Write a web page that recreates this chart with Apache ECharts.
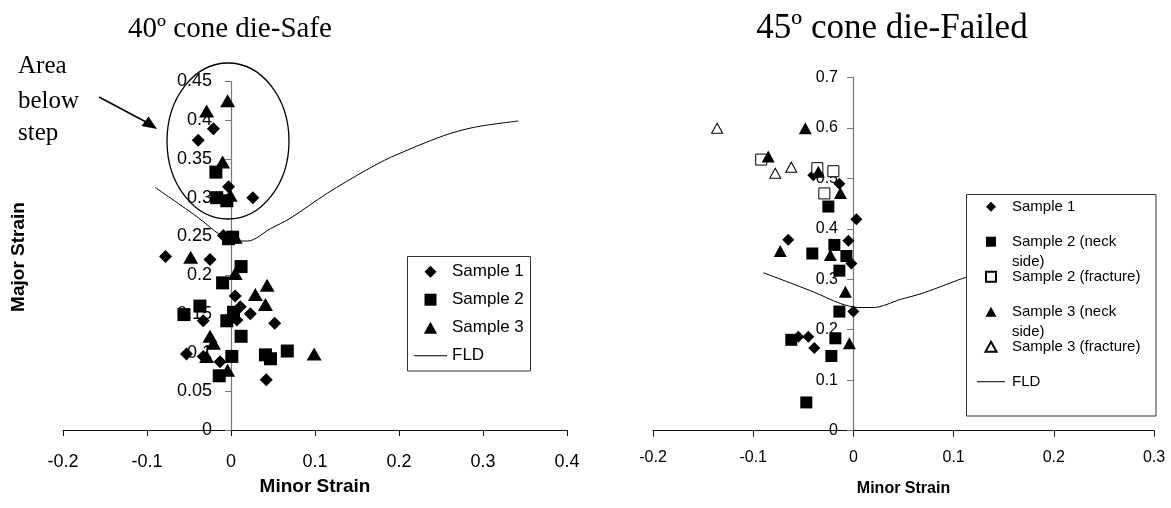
<!DOCTYPE html>
<html>
<head>
<meta charset="utf-8">
<title>Cone die strain</title>
<script src="https://cdn.jsdelivr.net/npm/echarts/dist/echarts.min.js"></script>
<style>
  html, body { margin: 0; padding: 0; background: #fff; }
  #chart { width: 1171px; height: 508px; }
</style>
</head>
<body>
<div id="chart"></div>
<script>
// 40 deg cone die (left)
var leftSample1 = [[-0.021,0.389],[-0.039,0.374],[-0.003,0.314],[0.026,0.300],[-0.009,0.251],[-0.078,0.224],
    [-0.025,0.220],[0.005,0.173],[0.011,0.159],[0.023,0.150],[0.007,0.142],[-0.033,0.141],[0.052,0.138],
    [-0.053,0.098],[-0.033,0.095],[-0.013,0.088],[0.042,0.065]];
var leftSample2 = [[-0.018,0.333],[-0.017,0.300],[-0.005,0.296],[-0.003,0.247],[0.002,0.249],[0.012,0.211],
    [-0.010,0.190],[-0.037,0.160],[-0.056,0.149],[0.003,0.152],[-0.005,0.141],[0.012,0.121],[0.001,0.095],
    [0.041,0.097],[0.047,0.092],[0.067,0.102],[-0.014,0.070]];
var leftSample3 = [[-0.004,0.425],[-0.029,0.412],[-0.010,0.346],[-0.001,0.303],[0.005,0.249],[-0.048,0.223],
    [0.005,0.202],[0.043,0.187],[0.029,0.175],[0.041,0.162],[-0.025,0.121],[-0.021,0.112],[-0.029,0.095],
    [0.099,0.098],[-0.004,0.077]];

// 45 deg cone die (right)
var rightSample1 = [[-0.040,0.506],[-0.014,0.489],[0.003,0.419],[-0.065,0.378],[-0.005,0.376],[-0.002,0.331],
    [0.000,0.236],[-0.055,0.186],[-0.045,0.186],[-0.039,0.164]];
var rightSample2Neck = [[-0.025,0.444],[-0.019,0.368],[-0.041,0.351],[-0.007,0.346],[-0.014,0.317],[-0.014,0.236],
    [-0.062,0.180],[-0.018,0.183],[-0.022,0.148],[-0.047,0.056]];
var rightSample2Frac = [[-0.092,0.537],[-0.036,0.520],[-0.020,0.514],[-0.029,0.470]];
var rightSample3Neck = [[-0.048,0.599],[-0.085,0.543],[-0.035,0.513],[-0.013,0.471],[-0.073,0.356],[-0.023,0.348],
    [-0.008,0.275],[-0.004,0.173]];
var rightSample3Frac = [[-0.136,0.599],[-0.078,0.510],[-0.062,0.522]];

// forming limit curve, same for both dies
var fld = [[-0.09,0.313],[-0.04,0.275],[-0.013,0.252],[0.005,0.244],[0.02,0.244],[0.047,0.260],[0.07,0.273],
    [0.115,0.306],[0.16,0.335],[0.19,0.352],[0.253,0.380],[0.29,0.391],[0.342,0.399]];

var leftXTicks = {min: -0.2, max: 0.4, interval: 0.1};
var leftYTicks = {min: 0, max: 0.45, interval: 0.05};
var rightXTicks = {min: -0.2, max: 0.3, interval: 0.1};
var rightYTicks = {min: 0, max: 0.7, interval: 0.1};

var sans = '"Liberation Sans", Arial, sans-serif';
var serif = '"Liberation Serif", "Times New Roman", serif';

var legendNames = {
    'Sample 2 (neck side)': 'Sample 2 (neck',
    'Sample 3 (neck side)': 'Sample 3 (neck'
};

// legend icons (paths keep their aspect inside the legend item box)
var iconDiamond = 'path://M5,0L10,5L5,10L0,5Z';
var iconSquare = 'path://M0,0H10V10H0Z';
var iconTriangle = 'path://M5,0L10,9L0,9Z';
function iconLine(w) { return 'path://M0,0H' + w + 'V1H0Z'; }

function xAxisOf(grid, ticks, fontSize, margin, gap, nameSize) {
    return {
        gridIndex: grid, type: 'value',
        min: ticks.min, max: ticks.max, interval: ticks.interval,
        name: 'Minor Strain', nameLocation: 'middle', nameGap: gap, nameMoveOverlap: false,
        nameTextStyle: {fontFamily: sans, fontWeight: 'bold', fontSize: nameSize, color: '#000'},
        splitLine: {show: false},
        axisLine: {onZero: false, lineStyle: {color: '#111', width: 1}},
        axisTick: {length: 6, lineStyle: {color: '#111'}},
        axisLabel: {fontFamily: sans, fontSize: fontSize, color: '#000', margin: margin}
    };
}

// y axis sits on x = 0, so shift it into the grid with a negative offset
function yAxisOf(grid, ticks, fontSize, margin, offset) {
    return {
        gridIndex: grid, type: 'value', position: 'left', offset: offset,
        min: ticks.min, max: ticks.max, interval: ticks.interval,
        splitLine: {show: false},
        axisLine: {show: true, onZero: false, lineStyle: {color: '#777', width: 1.2}},
        axisTick: {show: true, length: 6, lineStyle: {color: '#777'}},
        axisLabel: {fontFamily: sans, fontSize: fontSize, color: '#000', margin: margin}
    };
}

function filled(name, symbol, size, data, axis) {
    return {
        name: name, type: 'scatter', symbol: symbol, symbolSize: size,
        xAxisIndex: axis, yAxisIndex: axis, data: data,
        itemStyle: {color: '#000', opacity: 1}, z: 3
    };
}

function hollow(name, symbol, size, data, axis) {
    return {
        name: name, type: 'scatter', symbol: symbol, symbolSize: size,
        xAxisIndex: axis, yAxisIndex: axis, data: data,
        itemStyle: {color: '#fff', borderColor: '#000', borderWidth: 1, opacity: 1}, z: 3
    };
}

function fldLine(axis) {
    return {
        name: 'FLD', type: 'line', xAxisIndex: axis, yAxisIndex: axis,
        data: fld, smooth: 0.3, symbol: 'none', clip: true,
        itemStyle: {color: '#000'},
        lineStyle: {color: '#000', width: 1}, z: 2
    };
}

var myChart = echarts.init(document.getElementById('chart'), null, {renderer: 'canvas'});

var option = {
    backgroundColor: '#fff',
    animation: false,
    grid: [
        {left: 63, top: 81.5, width: 504, height: 348.5},
        {left: 653, top: 77.3, width: 501, height: 353.4}
    ],
    xAxis: [
        xAxisOf(0, leftXTicks, 18, 23, 47, 19),
        xAxisOf(1, rightXTicks, 16, 19, 50, 16)
    ],
    yAxis: [
        yAxisOf(0, leftYTicks, 18, 19, -168),
        yAxisOf(1, rightYTicks, 16, 15, -200)
    ],
    legend: [
        {
            data: [
                {name: 'Sample 1', icon: iconDiamond},
                {name: 'Sample 2', icon: iconSquare},
                {name: 'Sample 3', icon: iconTriangle},
                {name: 'FLD', icon: iconLine(33)}
            ],
            orient: 'vertical', left: 414, top: 261.7, padding: 0,
            itemWidth: 33, itemHeight: 12, itemGap: 8, selectedMode: false, z: 20,
            textStyle: {fontFamily: sans, fontSize: 17, color: '#000', lineHeight: 20}
        },
        {
            data: [
                {name: 'Sample 1', icon: iconDiamond},
                {name: 'Sample 2 (neck side)', icon: iconSquare},
                {name: 'Sample 2 (fracture)', icon: iconSquare},
                {name: 'Sample 3 (neck side)', icon: iconTriangle},
                {name: 'Sample 3 (fracture)', icon: iconTriangle},
                {name: 'FLD', icon: iconLine(28)}
            ],
            orient: 'vertical', left: 977, top: 196.7, padding: 0,
            itemWidth: 28, itemHeight: 10, itemGap: 15, selectedMode: false, z: 20,
            formatter: function (name) { return legendNames[name] || name; },
            textStyle: {fontFamily: sans, fontSize: 15, color: '#000', lineHeight: 20, padding: [0, 0, 0, 2]}
        }
    ],
    graphic: [
        {type: 'text', x: 230, y: 29, style: {text: '40º cone die-Safe', font: '29px ' + serif, fill: '#000', align: 'center', verticalAlign: 'middle'}},
        {type: 'text', x: 892, y: 29, style: {text: '45º cone die-Failed', font: '35px ' + serif, fill: '#000', align: 'center', verticalAlign: 'middle'}},
        {type: 'text', x: 19, y: 257, rotation: Math.PI / 2, style: {text: 'Major Strain', font: 'bold 19px ' + sans, fill: '#000', align: 'center', verticalAlign: 'middle'}},
        // annotation on the left plot
        {type: 'text', x: 18, y: 66.5, style: {text: 'Area', font: '25px ' + serif, fill: '#000', align: 'left', verticalAlign: 'middle'}},
        {type: 'text', x: 18, y: 101.5, style: {text: 'below', font: '25px ' + serif, fill: '#000', align: 'left', verticalAlign: 'middle'}},
        {type: 'text', x: 18, y: 133, style: {text: 'step', font: '25px ' + serif, fill: '#000', align: 'left', verticalAlign: 'middle'}},
        {type: 'line', shape: {x1: 99, y1: 97, x2: 146, y2: 122}, style: {stroke: '#000', lineWidth: 1.5}},
        {type: 'polygon', shape: {points: [[157, 129], [141.5, 126], [148.5, 116.5]]}, style: {fill: '#000'}},
        {type: 'ellipse', shape: {cx: 228, cy: 141, rx: 61, ry: 78}, style: {fill: 'transparent', stroke: '#000', lineWidth: 1.3}, z: 5},
        // legend boxes
        {type: 'rect', shape: {x: 407.5, y: 256.5, width: 123, height: 114.5}, style: {fill: '#fff', stroke: '#333', lineWidth: 1}, z: 15},
        {type: 'rect', shape: {x: 966.5, y: 194.5, width: 189.5, height: 221.5}, style: {fill: '#fff', stroke: '#333', lineWidth: 1}, z: 15},
        {type: 'text', x: 1012, y: 261.7, z: 21, style: {text: 'side)', font: '15px ' + sans, fill: '#000', align: 'left', verticalAlign: 'middle'}},
        {type: 'text', x: 1012, y: 331.7, z: 21, style: {text: 'side)', font: '15px ' + sans, fill: '#000', align: 'left', verticalAlign: 'middle'}}
    ],
    series: [
        filled('Sample 1', 'diamond', 13, leftSample1, 0),
        filled('Sample 2', 'rect', 13, leftSample2, 0),
        filled('Sample 3', 'triangle', [15, 13], leftSample3, 0),
        fldLine(0),
        filled('Sample 1', 'diamond', 12, rightSample1, 1),
        filled('Sample 2 (neck side)', 'rect', 12, rightSample2Neck, 1),
        hollow('Sample 2 (fracture)', 'rect', 11, rightSample2Frac, 1),
        filled('Sample 3 (neck side)', 'triangle', [13, 12], rightSample3Neck, 1),
        hollow('Sample 3 (fracture)', 'triangle', [11, 10], rightSample3Frac, 1),
        fldLine(1)
    ]
};

myChart.setOption(option);
</script>
</body>
</html>
